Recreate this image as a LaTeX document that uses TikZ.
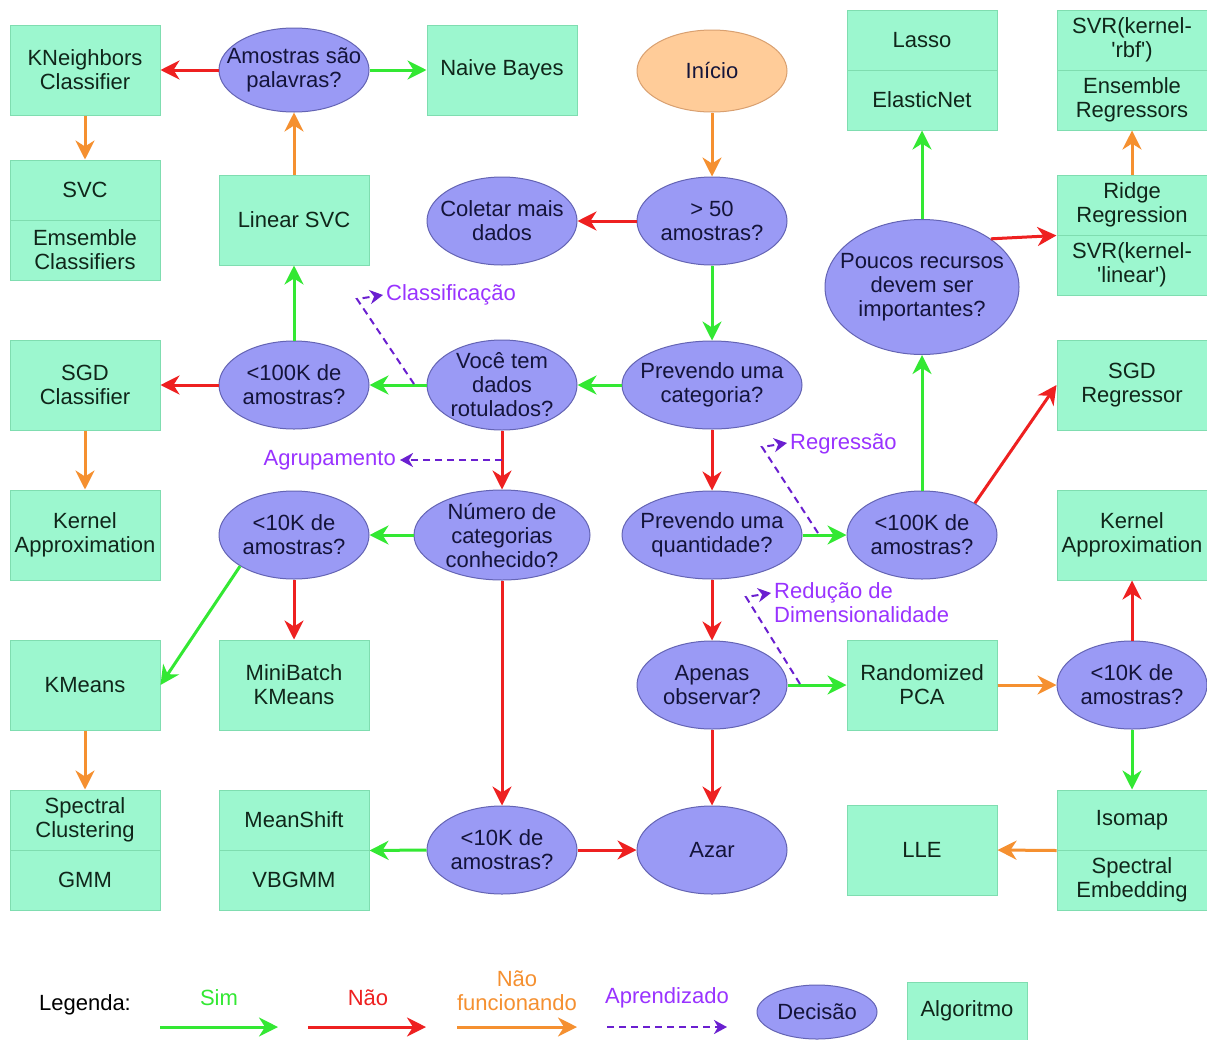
\documentclass[tikz,border=0pt]{standalone}
\usepackage{fontspec}
\setmainfont{Liberation Sans}
\usetikzlibrary{shapes.geometric,arrows.meta,calc}
\definecolor{boxfill}{HTML}{9CF7CF}
\definecolor{boxline}{HTML}{7FDDB0}
\definecolor{boxtext}{HTML}{10261A}
\definecolor{ellfill}{HTML}{9A9AF5}
\definecolor{ellline}{HTML}{6464B4}
\definecolor{elltext}{HTML}{14143A}
\definecolor{startfill}{HTML}{FFCC99}
\definecolor{startline}{HTML}{D9A070}
\definecolor{cyes}{HTML}{33E833}
\definecolor{cno}{HTML}{EE2020}
\definecolor{cfail}{HTML}{F59030}
\definecolor{clearn}{HTML}{6A1FD0}
\definecolor{clearntext}{HTML}{9933FF}
\begin{document}
\begin{tikzpicture}[x=1pt,y=-1pt,
  every node/.style={font=\fontsize{22}{24}\selectfont, align=center, inner sep=0pt},
  algo/.style={rectangle, draw=boxline, fill=boxfill, line width=1pt, minimum width=150pt, minimum height=90pt, text=boxtext},
  half/.style={algo, minimum height=60pt},
  dec/.style={ellipse, draw=ellline, fill=ellfill, line width=1pt, minimum width=150pt, minimum height=88pt},
  dtext/.style={text=elltext},
  startnode/.style={ellipse, draw=startline, fill=startfill, line width=1pt, minimum width=150pt, minimum height=82pt},
  yes/.style={draw=cyes, line width=3pt, -{Stealth[length=19pt,width=19pt,inset=6pt]}},
  no/.style={draw=cno, line width=3pt, -{Stealth[length=19pt,width=19pt,inset=6pt]}},
  fail/.style={draw=cfail, line width=3pt, -{Stealth[length=19pt,width=19pt,inset=6pt]}},
  learn/.style={draw=clearn, line width=2pt, dash pattern=on 7pt off 5pt, -{Stealth[length=13pt,width=14pt,inset=4pt]}},
  learntext/.style={text=clearntext}
]
\fill[white] (0,0) rectangle (1207,1039);
\useasboundingbox (0,0) rectangle (1207,1039);

% Row 1
\node[algo] (kn) at (85,70) {KNeighbors\\Classifier};
\node[dec, minimum height=84pt, label={[dtext]center:{Amostras são\\palavras?}}] (pal) at (294,70) {};
\node[algo] (nb) at (502,70) {Naive Bayes};
\node[startnode, label={[dtext]center:{Início}}] (ini) at (712,71) {};
\node[half] (lasso) at (922,40) {Lasso};
\node[half] (enet) at (922,100) {ElasticNet};
\node[half] (rbf) at (1132,40) {SVR(kernel-\\\textquotesingle rbf\textquotesingle)};
\node[half] (ensr) at (1132,100) {Ensemble\\Regressors};

% Row 2
\node[half] (svc) at (85,190) {SVC};
\node[half] (ensc) at (85,250) {Emsemble\\Classifiers};
\node[algo] (lsvc) at (294,220) {Linear SVC};
\node[dec, label={[dtext]center:{Coletar mais\\dados}}] (col) at (502,221) {};
\node[dec, label={[dtext]center:{> 50\\amostras?}}] (g50) at (712,221) {};
\node[dec, minimum width=194pt, minimum height=135pt, label={[dtext]center:{Poucos recursos\\devem ser\\importantes?}}] (pouc) at (922,287) {};
\node[half] (ridge) at (1132,205) {Ridge\\Regression};
\node[half] (svrl) at (1132,265) {SVR(kernel-\\\textquotesingle linear\textquotesingle)};

% Row 3
\node[algo] (sgdc) at (85,385) {SGD\\Classifier};
\node[dec, label={[dtext]center:{<100K de\\amostras?}}] (c100c) at (294,385) {};
\node[dec, minimum height=90pt, label={[dtext]center:{Você tem\\dados\\rotulados?}}] (rot) at (502,385) {};
\node[dec, minimum width=180pt, label={[dtext]center:{Prevendo uma\\categoria?}}] (pcat) at (712,385) {};
\node[algo] (sgdr) at (1132,385) {SGD\\Regressor};

% Row 4
\node[algo] (kac) at (85,535) {Kernel\\Approximation};
\node[dec, label={[dtext]center:{<10K de\\amostras?}}] (c10c) at (294,535) {};
\node[dec, minimum width=176pt, minimum height=90pt, label={[dtext]center:{Número de\\categorias\\conhecido?}}] (num) at (502,535) {};
\node[dec, minimum width=180pt, label={[dtext]center:{Prevendo uma\\quantidade?}}] (pqt) at (712,535) {};
\node[dec, label={[dtext]center:{<100K de\\amostras?}}] (c100r) at (922,535) {};
\node[algo] (kar) at (1132,535) {Kernel\\Approximation};

% Row 5
\node[algo] (km) at (85,685) {KMeans};
\node[algo] (mbk) at (294,685) {MiniBatch\\KMeans};
\node[dec, label={[dtext]center:{Apenas\\observar?}}] (obs) at (712,685) {};
\node[algo] (rpca) at (922,685) {Randomized\\PCA};
\node[dec, label={[dtext]center:{<10K de\\amostras?}}] (c10d) at (1132,685) {};

% Row 6
\node[half] (spc) at (85,820) {Spectral\\Clustering};
\node[half] (gmm) at (85,880) {GMM};
\node[half] (ms) at (294,820) {MeanShift};
\node[half] (vb) at (294,880) {VBGMM};
\node[dec, label={[dtext]center:{<10K de\\amostras?}}] (c10b) at (502,850) {};
\node[dec, label={[dtext]center:{Azar}}] (azar) at (712,850) {};
\node[algo] (lle) at (922,850) {LLE};
\node[half] (iso) at (1132,820) {Isomap};
\node[half] (spe) at (1132,880) {Spectral\\Embedding};

% Connectors
\draw[fail] (ini.south) -- (g50.north);
\draw[no] (g50.west) -- (col.east);
\draw[yes] (g50.south) -- (pcat.north);
\draw[yes] (pcat.west) -- (rot.east);
\draw[no] (pcat.south) -- (pqt.north);
\draw[yes] (rot.west) -- (c100c.east);
\draw[no] (rot.south) -- (num.north);
\draw[no] (c100c.west) -- (sgdc.east);
\draw[yes] (c100c.north) -- (lsvc.south);
\draw[fail] (lsvc.north) -- (pal.south);
\draw[no] (pal.west) -- (kn.east);
\draw[yes] (pal.east) -- (nb.west);
\draw[fail] (kn.south) -- (svc.north);
\draw[fail] (sgdc.south) -- (kac.north);
\draw[yes] (num.west) -- (c10c.east);
\draw[no] (num.south) -- (c10b.north);
\draw[yes] (c10c.210.6) -- (km.east);
\draw[no] (c10c.south) -- (mbk.north);
\draw[fail] (km.south) -- (spc.north);
\draw[yes] (c10b.west) -- (ms.south east);
\draw[no] (c10b.east) -- (azar.west);
\draw[yes] (pqt.east) -- (c100r.west);
\draw[no] (pqt.south) -- (obs.north);
\draw[yes] (obs.east) -- (rpca.west);
\draw[no] (obs.south) -- (azar.north);
\draw[yes] (c100r.north) -- (pouc.south);
\draw[no] (c100r.31) -- (sgdr.west);
\draw[yes] (pouc.north) -- (enet.south);
\draw[no] (pouc.35) -- (ridge.south west);
\draw[fail] (ridge.north) -- (ensr.south);
\draw[fail] (rpca.east) -- (c10d.west);
\draw[no] (c10d.north) -- (kar.south);
\draw[yes] (c10d.south) -- (iso.north);
\draw[fail] (iso.south west) -- (lle.east);

% Learning type markers
\coordinate (clsA) at (414,384);
\coordinate (clsB) at (357,299);
\coordinate (clsC) at (383,295);
\draw[learn] (clsA) -- (clsB) -- (clsC);
\node[learntext, anchor=west] (clsL) at (386,295) {Classificação};

\coordinate (agA) at (502,460);
\coordinate (agB) at (400,460);
\draw[learn] (agA) -- (agB);
\node[learntext, anchor=east] (agL) at (396,460) {Agrupamento};

\coordinate (regA) at (818,533);
\coordinate (regB) at (762,447);
\coordinate (regC) at (787,443);
\draw[learn] (regA) -- (regB) -- (regC);
\node[learntext, anchor=west] (regL) at (790,444) {Regressão};

\coordinate (redA) at (800,684);
\coordinate (redB) at (746,597);
\coordinate (redC) at (771,593);
\draw[learn] (redA) -- (redB) -- (redC);
\node[learntext, anchor=west, align=left] (redL) at (774,603) {Redução de\\Dimensionalidade};

% Legend
\node (leg) at (85,1005) {Legenda:};
\node[text=cyes] (lsim) at (219,998) {Sim};
\coordinate (l1a) at (160,1027); \coordinate (l1b) at (278,1027);
\draw[yes] (l1a) -- (l1b);
\node[text=cno] (lnao) at (368,998) {Não};
\coordinate (l2a) at (308,1027); \coordinate (l2b) at (426,1027);
\draw[no] (l2a) -- (l2b);
\node[text=cfail] (lfail) at (517,991) {Não\\funcionando};
\coordinate (l3a) at (457,1027); \coordinate (l3b) at (577,1027);
\draw[fail] (l3a) -- (l3b);
\node[learntext] (llearn) at (667,998) {Aprendizado};
\coordinate (l4a) at (607,1027); \coordinate (l4b) at (727,1027);
\draw[learn] (l4a) -- (l4b);
\node[dec, minimum width=120pt, minimum height=54pt, label={[dtext]center:{Decisão}}] (ldec) at (817,1012) {};
\node[algo, minimum width=120pt, minimum height=58pt] (lalg) at (967,1011) {Algoritmo};
\end{tikzpicture}
\end{document}
